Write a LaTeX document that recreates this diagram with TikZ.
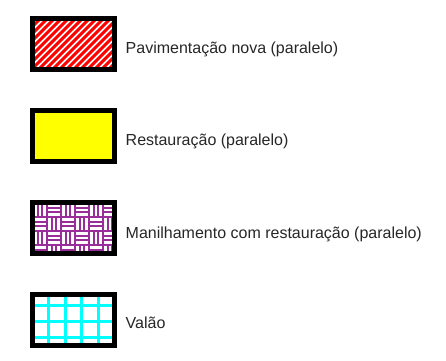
\documentclass[tikz,border=0pt]{standalone}
\usepackage{fontspec}
\setmainfont{Liberation Sans}
\definecolor{legred}{RGB}{255,0,0}
\definecolor{legyellow}{RGB}{255,255,0}
\definecolor{legpurple}{RGB}{153,45,153}
\definecolor{legcyan}{RGB}{0,255,255}
\begin{document}
\begin{tikzpicture}[x=1pt,y=-1pt,
  legbox/.style={rectangle, minimum width=82pt, minimum height=51pt, inner sep=0pt, outer sep=0pt},
  legborder/.style={draw=black, line width=5pt},
  leglabel/.style={anchor=base west, inner sep=0pt, font=\fontsize{16}{19}\selectfont, text=black!85}]
\useasboundingbox (0,0) rectangle (446,360);
% box 1: red stripes
\node[legbox, fill=white] (b1) at (73.5,44) {};
\begin{scope}
\clip (b1.south west) rectangle (b1.north east);
\foreach \i in {-70,-63,...,130} \draw[legred, line width=3.1pt] (\i,80) -- ++(70,-70);
\end{scope}
\draw[legborder] (b1.south west) rectangle (b1.north east);
% box 2: yellow
\node[legbox, fill=legyellow] (b2) at (73.5,135.5) {};
\draw[legborder] (b2.south west) rectangle (b2.north east);
% box 3: purple weave
\node[legbox, fill=legpurple] (b3) at (73.5,228) {};
\begin{scope}
\clip (b3.south west) rectangle (b3.north east);
\foreach \c in {0,...,5} {
  \foreach \r in {0,...,3} {
    \pgfmathtruncatemacro{\wpar}{mod(\c+\r,2)}
    \pgfmathsetmacro{\bx}{33+14*\c}
    \pgfmathsetmacro{\by}{203+14*\r}
    \ifnum\wpar=0
      \foreach \o in {2.4,7,11.6} \fill[white] (\bx+\o-1.25,\by+1) rectangle (\bx+\o+1.25,\by+13);
    \else
      \foreach \o in {2.4,7,11.6} \fill[white] (\bx+1,\by+\o-1.25) rectangle (\bx+13,\by+\o+1.25);
    \fi
  }
}
\end{scope}
\draw[legborder] (b3.south west) rectangle (b3.north east);
% box 4: cyan grid
\node[legbox, fill=white] (b4) at (73.5,320) {};
\begin{scope}
\clip (b4.south west) rectangle (b4.north east);
\foreach \x in {32,48.5,65,81.5,98,114} \draw[legcyan, line width=3pt] (\x,285) -- (\x,355);
\foreach \y in {289,305,321,337} \draw[legcyan, line width=3pt] (25,\y) -- (120,\y);
\end{scope}
\draw[legborder] (b4.south west) rectangle (b4.north east);
% labels
\node[leglabel] (t1) at (125.5,53) {Pavimentação nova (paralelo)};
\node[leglabel] (t2) at (125.5,145) {Restauração (paralelo)};
\node[leglabel] (t3) at (125.5,238) {Manilhamento com restauração (paralelo)};
\node[leglabel] (t4) at (125.5,328) {Valão};
\end{tikzpicture}
\end{document}
